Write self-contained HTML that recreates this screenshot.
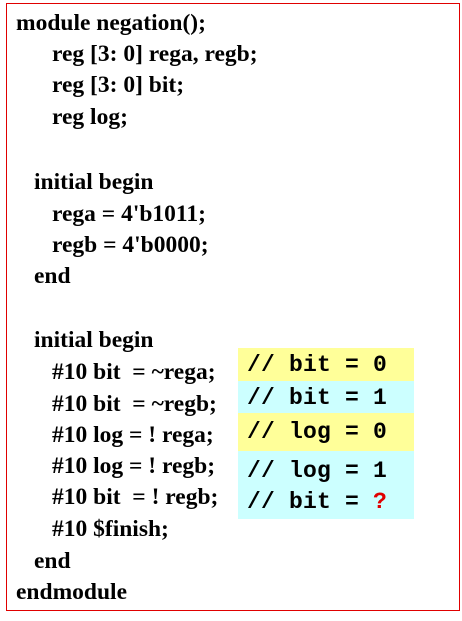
<!DOCTYPE html>
<html><head><style>
body{margin:0;width:462px;height:621px;background:#fff;position:relative;overflow:hidden}
.b{position:absolute;left:6px;top:3px;width:454px;height:608px;border:1.5px solid #e00000;box-sizing:border-box}
.t{position:absolute;font:bold 23.5px "Liberation Serif",serif;line-height:24px;white-space:pre;color:#000}
.c{position:absolute;left:238px;width:176px;font:bold 23px "Liberation Mono",monospace;letter-spacing:0.2px;white-space:pre;color:#000;box-sizing:border-box;padding-left:9px}
</style></head><body>
<div class="b"></div>
<div class="c" style="top:348px;height:33px;background:#ffff99;line-height:35px">// bit = 0</div>
<div class="c" style="top:381px;height:32px;background:#ccffff;line-height:34px">// bit = 1</div>
<div class="c" style="top:413px;height:38px;background:#ffff99;line-height:38px">// log = 0</div>
<div class="c" style="top:451px;height:68px;background:#ccffff;line-height:31px;padding-top:5px">// log = 1
// bit = <span style="color:#e00000">?</span></div>
<div class="t" style="left:16px;top:11px">module negation();</div>
<div class="t" style="left:52px;top:42px">reg [3: 0] rega, regb;</div>
<div class="t" style="left:52px;top:73px">reg [3: 0] bit;</div>
<div class="t" style="left:52px;top:105px">reg log;</div>
<div class="t" style="left:34px;top:170px">initial begin</div>
<div class="t" style="left:52px;top:202px">rega = 4'b1011;</div>
<div class="t" style="left:52px;top:233px">regb = 4'b0000;</div>
<div class="t" style="left:34px;top:264px">end</div>
<div class="t" style="left:34px;top:328px">initial begin</div>
<div class="t" style="left:52px;top:360px">#10 bit  = ~rega;</div>
<div class="t" style="left:52px;top:392px">#10 bit  = ~regb;</div>
<div class="t" style="left:52px;top:423px">#10 log = ! rega;</div>
<div class="t" style="left:52px;top:454px">#10 log = ! regb;</div>
<div class="t" style="left:52px;top:485px">#10 bit  = ! regb;</div>
<div class="t" style="left:52px;top:517px">#10 $finish;</div>
<div class="t" style="left:34px;top:549px">end</div>
<div class="t" style="left:16px;top:580px">endmodule</div>
</body></html>
